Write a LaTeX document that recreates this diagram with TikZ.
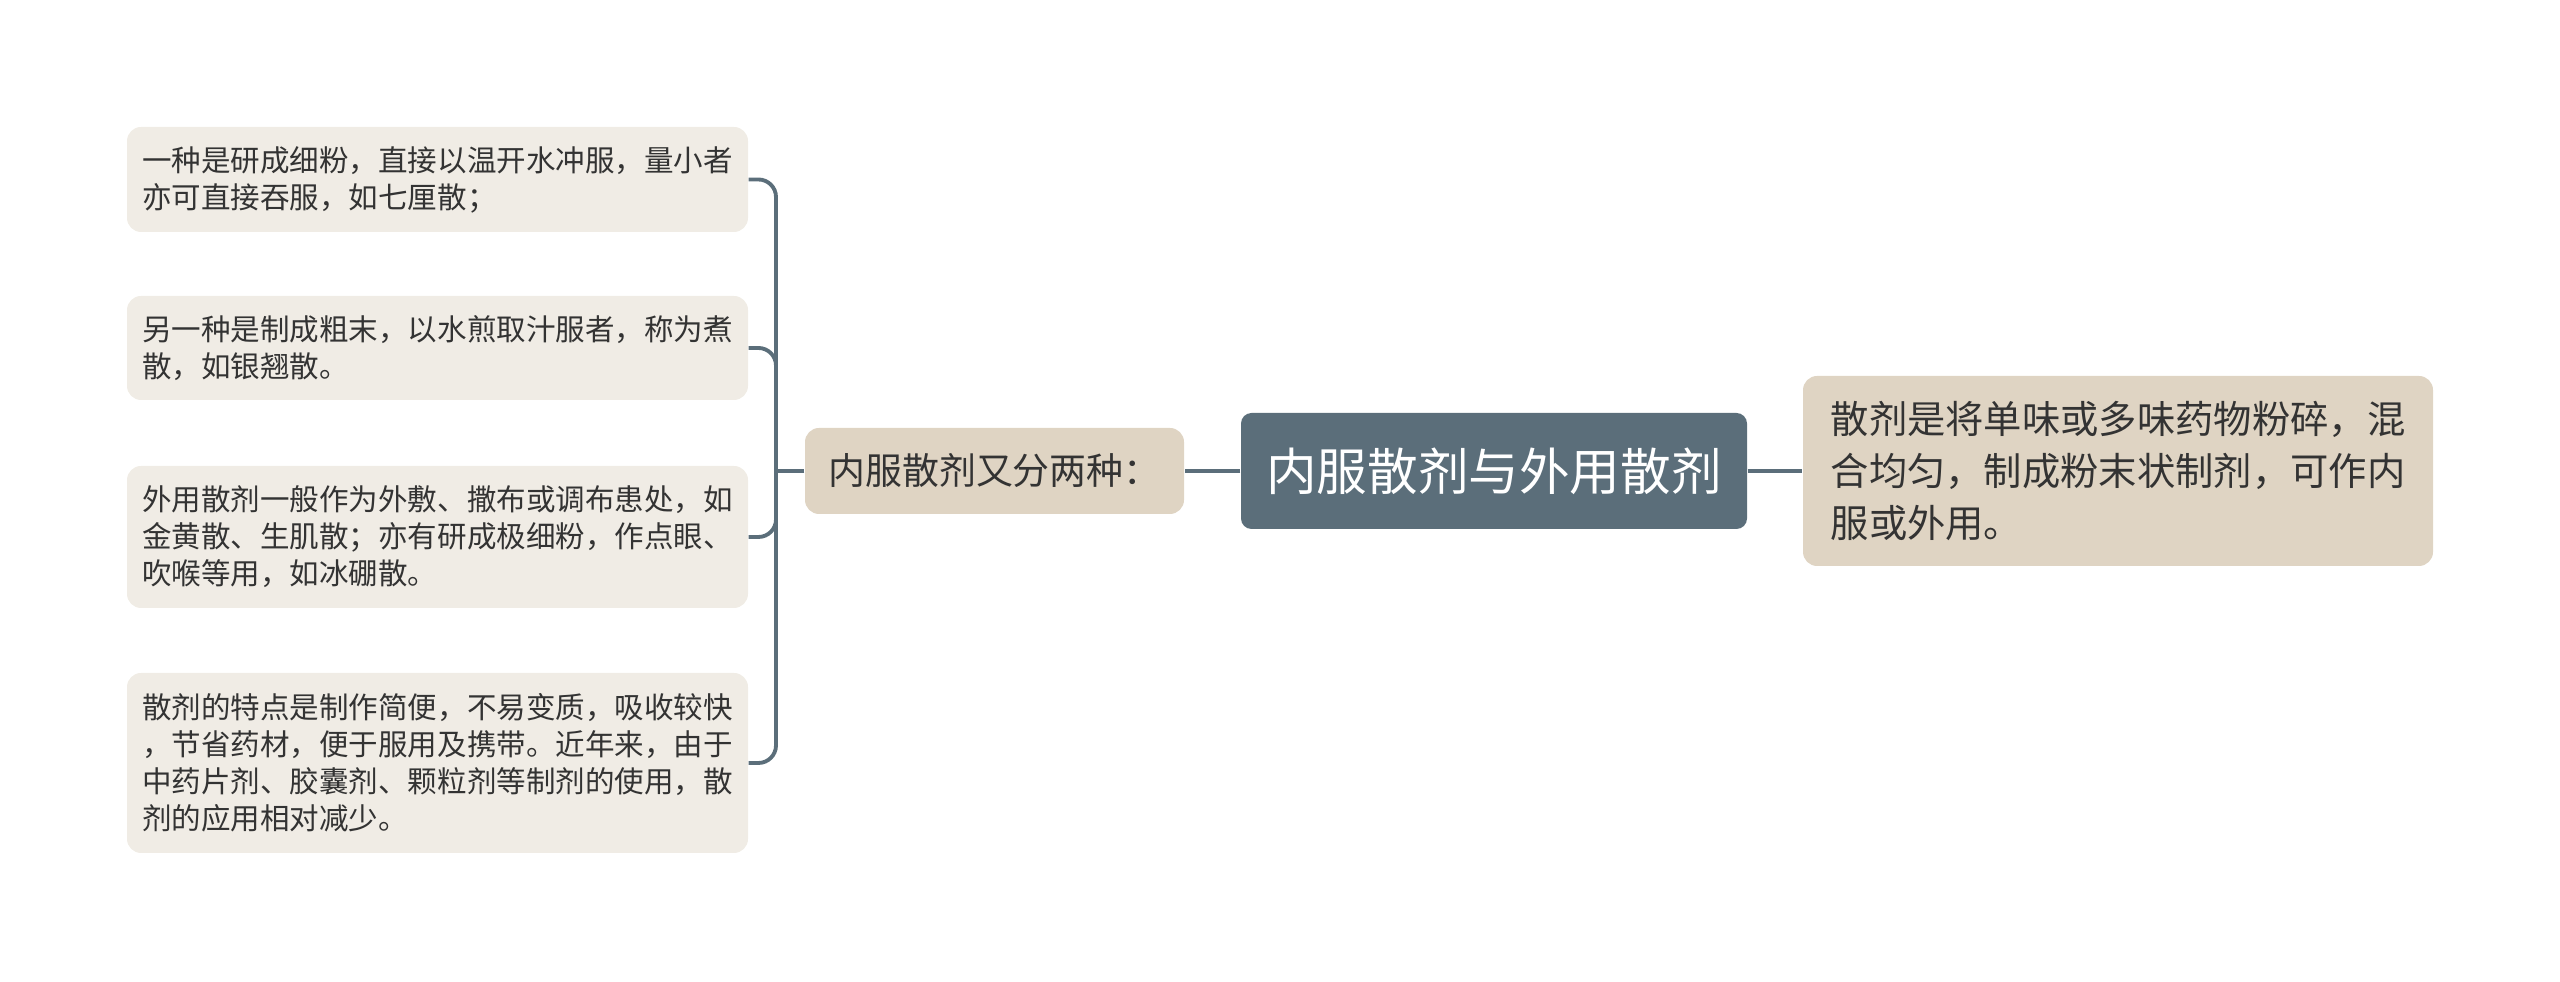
\documentclass[tikz,border=0pt]{standalone}
\usepackage{fontspec}
\setmainfont{Noto Sans CJK SC}
\usepackage{tikz}
\usetikzlibrary{positioning}
\definecolor{slate}{HTML}{5B6E7A}
\definecolor{sand}{HTML}{DFD4C3}
\definecolor{paper}{HTML}{F0ECE5}
\definecolor{ink}{HTML}{333333}
\tikzset{
  box/.style={rectangle,rounded corners=4pt,inner sep=0pt,align=left,text=ink},
  topic/.style={box,fill=slate,text=white,rounded corners=3pt,
    font=\fontsize{14.4pt}{17pt}\selectfont},
  sub/.style={box,fill=sand,font=\fontsize{10.5pt}{12pt}\selectfont},
  note/.style={box,fill=sand,font=\fontsize{10.9pt}{14.8pt}\selectfont},
  leaf/.style={box,fill=paper,minimum width=6.21cm,
    font=\fontsize{8.4pt}{10.5pt}\selectfont},
  link/.style={slate,line width=1.1pt,rounded corners=5pt}
}

\begin{document}
\begin{tikzpicture}
  \useasboundingbox (0,0) rectangle (25.6,9.82);
  \node[topic,minimum width=5.06cm,minimum height=1.16cm] (topic) at (14.94,5.11) {内服散剂与外用散剂};
  \node[sub,minimum width=3.79cm,minimum height=0.86cm] (sub) at (9.945,5.11) {内服散剂又分两种：};
  \node[note,minimum width=6.30cm,minimum height=1.90cm] (note) at (21.18,5.11)
    {散剂是将单味或多味药物粉碎，混\\合均匀，制成粉末状制剂，可作内\\服或外用。};
  \node[leaf,minimum height=1.05cm] (leaf1) at (4.375,8.025)
    {一种是研成细粉，直接以温开水冲服，量小者\\亦可直接吞服，如七厘散；};
  \node[leaf,minimum height=1.04cm] (leaf2) at (4.375,6.34)
    {另一种是制成粗末，以水煎取汁服者，称为煮\\散，如银翘散。};
  \node[leaf,minimum height=1.42cm] (leaf3) at (4.375,4.45)
    {外用散剂一般作为外敷、撒布或调布患处，如\\金黄散、生肌散；亦有研成极细粉，作点眼、\\吹喉等用，如冰硼散。};
  \node[leaf,minimum height=1.80cm] (leaf4) at (4.375,2.19)
    {散剂的特点是制作简便，不易变质，吸收较快\\，节省药材，便于服用及携带。近年来，由于\\中药片剂、胶囊剂、颗粒剂等制剂的使用，散\\剂的应用相对减少。};
  \coordinate (fork) at (7.76,5.11);
  \draw[link] (topic) -- (note);
  \draw[link] (topic) -- (sub);
  \draw[link] (sub) -- (fork);
  \foreach \i in {1,...,4}
    \draw[link] (fork) |- (leaf\i.east);
\end{tikzpicture}
\end{document}
